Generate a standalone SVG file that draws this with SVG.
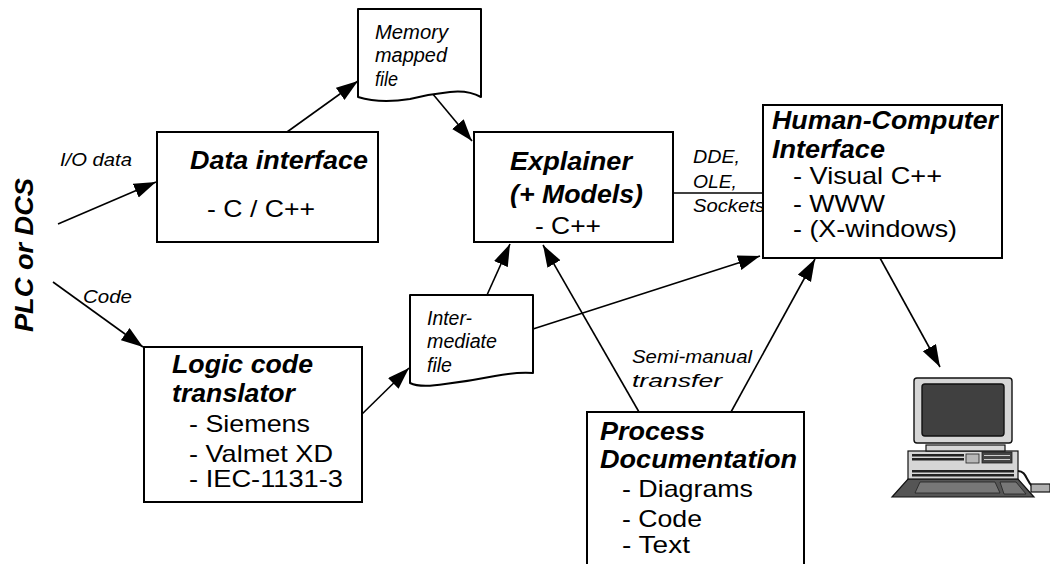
<svg xmlns="http://www.w3.org/2000/svg" width="1050" height="564" viewBox="0 0 1050 564">
  <style>
    .box { fill: #ffffff; stroke: #000000; stroke-width: 2; }
    .doc { fill: #ffffff; stroke: #000000; stroke-width: 2; stroke-linejoin: round; }
    .edge { fill: none; stroke: #000000; stroke-width: 1.6; }
    .title { font-family: "Liberation Sans", Arial, sans-serif; font-weight: bold; font-style: italic; font-size: 25px; fill: #000; }
    .item { font-family: "Liberation Sans", Arial, sans-serif; font-size: 24px; fill: #000; }
    .label { font-family: "Liberation Sans", Arial, sans-serif; font-style: italic; font-size: 19px; fill: #000; }
    .doctext { font-family: "Liberation Sans", Arial, sans-serif; font-style: italic; font-size: 20px; fill: #000; }
  </style>
  <defs>
    <marker id="arrow" markerUnits="userSpaceOnUse" markerWidth="24" markerHeight="16" refX="22" refY="7.5" orient="auto">
      <path d="M0,0 L22,7.5 L0,15 Z" fill="#000"/>
    </marker>
  </defs>

  <!-- source label, rotated -->
  <g id="plc">
    <text class="title" font-size="26" transform="translate(33,332) rotate(-90)" textLength="154" lengthAdjust="spacingAndGlyphs">PLC or DCS</text>
  </g>

  <!-- connectors -->
  <g id="connectors">
    <line class="edge" x1="58" y1="224" x2="156" y2="182" marker-end="url(#arrow)"/>
    <line class="edge" x1="53" y1="282" x2="143" y2="347" marker-end="url(#arrow)"/>
    <line class="edge" x1="287" y1="132" x2="358" y2="81" marker-end="url(#arrow)"/>
    <line class="edge" x1="432" y1="93" x2="472" y2="141" marker-end="url(#arrow)"/>
    <line class="edge" x1="358" y1="418" x2="409" y2="368" marker-end="url(#arrow)"/>
    <line class="edge" x1="487" y1="295" x2="510" y2="244" marker-end="url(#arrow)"/>
    <line class="edge" x1="533" y1="329" x2="760" y2="256" marker-end="url(#arrow)"/>
    <line class="edge" x1="639" y1="412" x2="543" y2="245" marker-end="url(#arrow)"/>
    <line class="edge" x1="731" y1="412" x2="815" y2="259" marker-end="url(#arrow)"/>
    <line class="edge" x1="673" y1="193" x2="763" y2="193"/>
    <line class="edge" x1="880" y1="258" x2="940" y2="367" marker-end="url(#arrow)"/>
    <text class="label" x="60" y="166" textLength="72" lengthAdjust="spacingAndGlyphs">I/O data</text>
    <text class="label" x="83" y="303" textLength="49" lengthAdjust="spacingAndGlyphs">Code</text>
    <text class="label" x="693" y="163" textLength="47" lengthAdjust="spacingAndGlyphs">DDE,</text>
    <text class="label" x="693" y="188" textLength="44" lengthAdjust="spacingAndGlyphs">OLE,</text>
    <text class="label" x="693" y="212" textLength="72" lengthAdjust="spacingAndGlyphs">Sockets</text>
    <text class="label" x="632" y="363" textLength="120" lengthAdjust="spacingAndGlyphs">Semi-manual</text>
    <text class="label" x="632" y="387" textLength="90" lengthAdjust="spacingAndGlyphs">transfer</text>
  </g>

  <g id="data-interface">
    <rect class="box" x="157" y="132" width="221" height="110"/>
    <text class="title" x="190" y="169" textLength="178" lengthAdjust="spacingAndGlyphs">Data interface</text>
    <text class="item" x="207" y="217" textLength="108" lengthAdjust="spacingAndGlyphs">- C / C++</text>
  </g>

  <g id="memory-file">
    <path class="doc" d="M358,9 H481 V97 Q468,90 450,92 Q430,94 410,99 Q380,104 358,97 Z"/>
    <text class="doctext" x="375" y="39" textLength="73" lengthAdjust="spacingAndGlyphs">Memory</text>
    <text class="doctext" x="375" y="62" textLength="72" lengthAdjust="spacingAndGlyphs">mapped</text>
    <text class="doctext" x="375" y="86" textLength="23" lengthAdjust="spacingAndGlyphs">file</text>
  </g>

  <g id="explainer">
    <rect class="box" x="474" y="132" width="199" height="110"/>
    <text class="title" x="510" y="170" textLength="122" lengthAdjust="spacingAndGlyphs">Explainer</text>
    <text class="title" x="510" y="203" textLength="133" lengthAdjust="spacingAndGlyphs">(+ Models)</text>
    <text class="item" x="535" y="234" textLength="66" lengthAdjust="spacingAndGlyphs">- C++</text>
  </g>

  <g id="hci">
    <rect class="box" x="763" y="105" width="239" height="153"/>
    <text class="title" x="772" y="129" textLength="226" lengthAdjust="spacingAndGlyphs">Human-Computer</text>
    <text class="title" x="772" y="158" textLength="113" lengthAdjust="spacingAndGlyphs">Interface</text>
    <text class="item" x="793" y="184" textLength="149" lengthAdjust="spacingAndGlyphs">- Visual C++</text>
    <text class="item" x="793" y="212" textLength="92" lengthAdjust="spacingAndGlyphs">- WWW</text>
    <text class="item" x="793" y="237" textLength="164" lengthAdjust="spacingAndGlyphs">- (X-windows)</text>
  </g>

  <g id="logic-translator">
    <rect class="box" x="144" y="347" width="218" height="155"/>
    <text class="title" font-size="23" x="172" y="373" textLength="141" lengthAdjust="spacingAndGlyphs">Logic code</text>
    <text class="title" font-size="23" x="172" y="402" textLength="123" lengthAdjust="spacingAndGlyphs">translator</text>
    <text class="item" x="189" y="432" textLength="121" lengthAdjust="spacingAndGlyphs">- Siemens</text>
    <text class="item" x="189" y="462" textLength="144" lengthAdjust="spacingAndGlyphs">- Valmet XD</text>
    <text class="item" x="189" y="487" textLength="154" lengthAdjust="spacingAndGlyphs">- IEC-1131-3</text>
  </g>

  <g id="intermediate-file">
    <path class="doc" d="M410,295 H533 V373 Q515,372 495,376 Q470,381 445,384 Q420,388 410,383 Z"/>
    <text class="doctext" x="427" y="325" textLength="45" lengthAdjust="spacingAndGlyphs">Inter-</text>
    <text class="doctext" x="427" y="348" textLength="70" lengthAdjust="spacingAndGlyphs">mediate</text>
    <text class="doctext" x="427" y="372" textLength="25" lengthAdjust="spacingAndGlyphs">file</text>
  </g>

  <g id="process-documentation">
    <rect class="box" x="587" y="412" width="217" height="160"/>
    <text class="title" x="600" y="440" textLength="105" lengthAdjust="spacingAndGlyphs">Process</text>
    <text class="title" x="600" y="468" textLength="197" lengthAdjust="spacingAndGlyphs">Documentation</text>
    <text class="item" x="622" y="497" textLength="131" lengthAdjust="spacingAndGlyphs">- Diagrams</text>
    <text class="item" x="622" y="527" textLength="80" lengthAdjust="spacingAndGlyphs">- Code</text>
    <text class="item" x="622" y="553" textLength="68" lengthAdjust="spacingAndGlyphs">- Text</text>
  </g>

  <!-- workstation clip-art -->
  <g id="computer">
    <!-- cable and mouse -->
    <path d="M1018,471 C1026,471 1026,480 1032,486" fill="none" stroke="#111" stroke-width="2"/>
    <rect x="1031" y="484" width="19" height="8" fill="#b0b0b0" stroke="#111" stroke-width="1.2"/>
    <!-- keyboard -->
    <path d="M908,479 H1018 L1034,497 H892 Z" fill="#555" stroke="#111" stroke-width="1.2"/>
    <path d="M920,482 H995 L1000,493 H915 Z" fill="#777" stroke="#222" stroke-width="0.8"/>
    <path d="M1000,482 H1016 L1026,494 H1004 Z" fill="#777" stroke="#222" stroke-width="0.8"/>
    <!-- system unit -->
    <rect x="908" y="451" width="110" height="28" fill="#d6d6d6" stroke="#111" stroke-width="1.2"/>
    <rect x="912" y="454" width="52" height="2.5" fill="#222"/>
    <rect x="912" y="458" width="52" height="2.5" fill="#222"/>
    <rect x="966" y="454" width="13" height="9" fill="#b8b8b8" stroke="#222" stroke-width="0.8"/>
    <rect x="982" y="452" width="30" height="11" fill="#444" stroke="#222" stroke-width="0.8"/>
    <line x1="984" y1="455.5" x2="1010" y2="455.5" stroke="#ccc" stroke-width="1"/>
    <line x1="984" y1="459.5" x2="1010" y2="459.5" stroke="#ccc" stroke-width="1"/>
    <rect x="912" y="470" width="102" height="2.5" fill="#222"/>
    <rect x="912" y="474" width="102" height="2.5" fill="#222"/>
    <!-- stand -->
    <rect x="926" y="445" width="79" height="6" fill="#d6d6d6" stroke="#111" stroke-width="1.2"/>
    <!-- monitor -->
    <rect x="914" y="378" width="98" height="65" rx="3" fill="#d6d6d6" stroke="#111" stroke-width="1.4"/>
    <rect x="922" y="384" width="82" height="52" rx="3" fill="#404040" stroke="#111" stroke-width="1.4"/>
  </g>
</svg>
